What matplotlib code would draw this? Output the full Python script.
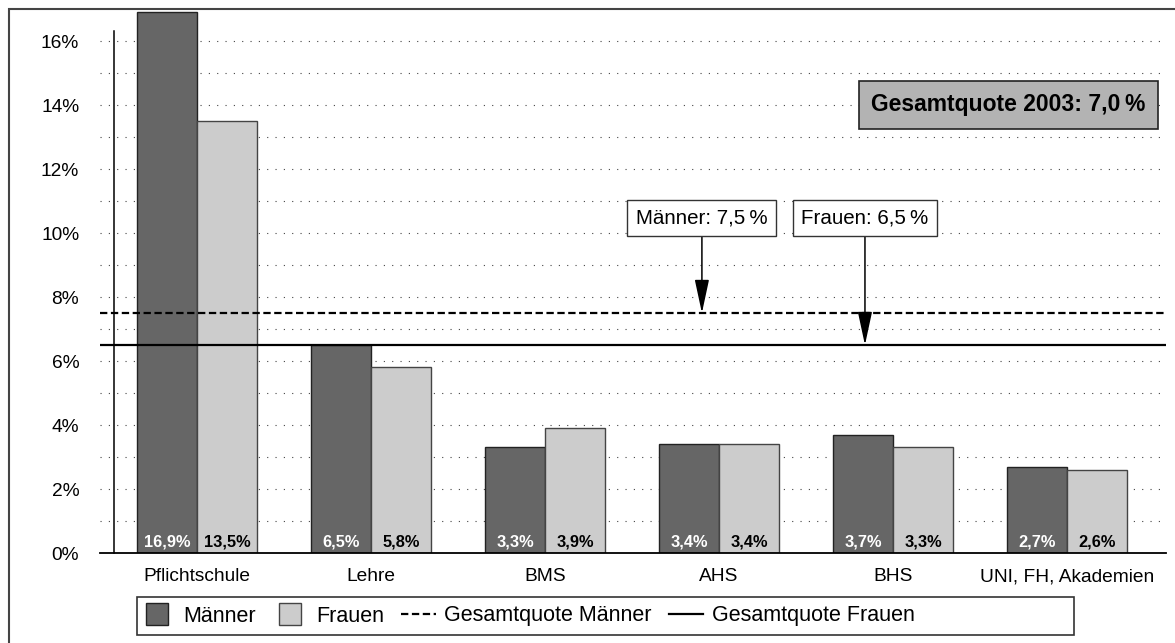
import matplotlib
matplotlib.use("Agg")
import matplotlib.pyplot as plt
from matplotlib.lines import Line2D
from matplotlib.patches import Rectangle
import numpy as np

plt.rcParams['font.family'] = ['Liberation Sans', 'DejaVu Sans']

categories = ["Pflichtschule", "Lehre", "BMS", "AHS", "BHS", "UNI, FH, Akademien"]
maenner = [16.9, 6.5, 3.3, 3.4, 3.7, 2.7]
frauen = [13.5, 5.8, 3.9, 3.4, 3.3, 2.6]
quote_maenner = 7.5
quote_frauen = 6.5
quote_gesamt = 7.0
jahr = 2003

col_m = "#666666"
col_f = "#cccccc"


def de(v, sep=""):
	return f"{v:.1f}".replace(".", ",") + sep + "%"


fig = plt.figure(figsize=(11.75, 6.43), dpi=100)
W, H = 1175, 643
ax = fig.add_axes([100 / W, 1 - 553 / H, 1066 / W, (553 - 5.8) / H])

x = np.arange(len(categories))
bw = 0.345
ax.bar(x - bw / 2, maenner, bw, color=col_m, edgecolor="#222222", linewidth=1, zorder=2)
ax.bar(x + bw / 2, frauen, bw, color=col_f, edgecolor="#444444", linewidth=1, zorder=2)

for i in range(len(categories)):
	ax.text(x[i] - bw / 2, 0.12, de(maenner[i]), ha="center", va="bottom",
			fontsize=11.8, fontweight="bold", color="white", zorder=5)
	ax.text(x[i] + bw / 2, 0.12, de(frauen[i]), ha="center", va="bottom",
			fontsize=11.8, fontweight="bold", color="black", zorder=5)

# Gesamtquoten
ax.axhline(quote_maenner, color="black", linewidth=1.6, linestyle=(0, (3.3, 1.6)), zorder=3)
ax.axhline(quote_frauen, color="black", linewidth=1.6, zorder=3)

ax.set_xlim(-0.557, 5.569)
ax.set_ylim(0, 17.1)
ax.set_yticks(np.arange(0, 17, 2))
ax.set_yticks(np.arange(1, 17, 2), minor=True)
ax.set_yticklabels([f"{int(v)}%" for v in np.arange(0, 17, 2)], fontsize=13.8)
ax.set_xticks(x)
ax.set_xticklabels(categories, fontsize=13.8)
ax.tick_params(axis="both", which="both", length=0)
ax.tick_params(axis="y", pad=15)
ax.tick_params(axis="x", pad=11)
ax.set_axisbelow(True)
ax.grid(axis="y", which="both", color="#444444", linewidth=0.8, linestyle=(0, (1, 6.5)))
for s in ["left", "right", "top"]:
	ax.spines[s].set_visible(False)
ax.spines["bottom"].set_linewidth(1.3)
ax.plot([-0.477, -0.477], [0, 16.3], color="black", linewidth=1.1, zorder=3, clip_on=False)

bbox_w = dict(boxstyle="square,pad=0.42", facecolor="white", edgecolor="#333333", linewidth=1)
arrow = dict(arrowstyle="-|>,head_length=1.4,head_width=0.3", color="black", linewidth=1.1,
			 shrinkA=0, shrinkB=0)
ax.annotate("Männer: " + de(quote_maenner, "\u2009"), xy=(2.902, quote_maenner), xytext=(2.902, 10.48),
			ha="center", va="center", fontsize=14.8, bbox=bbox_w, arrowprops=arrow, zorder=6)
ax.annotate("Frauen: " + de(quote_frauen, "\u2009"), xy=(3.839, quote_frauen), xytext=(3.839, 10.48),
			ha="center", va="center", fontsize=14.8, bbox=bbox_w, arrowprops=arrow, zorder=6)

ax.text(4.664, 14.0, f"Gesamtquote {jahr}: " + de(quote_gesamt, "\u2009"), ha="center", va="center",
		fontsize=16.5, fontweight="bold", zorder=6,
		bbox=dict(boxstyle="square,pad=0.55", facecolor="#b3b3b3", edgecolor="#222222", linewidth=1.2))

# Legende mit breitem Rahmen
handles = [
	Line2D([], [], marker="s", markersize=16, markerfacecolor=col_m, markeredgecolor="#222222", linestyle="none"),
	Line2D([], [], marker="s", markersize=16, markerfacecolor=col_f, markeredgecolor="#444444", linestyle="none"),
	Line2D([], [], color="black", linewidth=1.6, linestyle=(0, (3.3, 1.6))),
	Line2D([], [], color="black", linewidth=1.6),
]
labels = ["Männer", "Frauen", "Gesamtquote Männer", "Gesamtquote Frauen"]
fig.legend(handles, labels, loc="center left", bbox_to_anchor=(140 / W, 1 - 616 / H), ncol=4,
		   frameon=False, fontsize=15.5, handlelength=1.6, handletextpad=0.4, columnspacing=0.8,
		   borderpad=0, borderaxespad=0)
fig.patches.append(Rectangle((137 / W, 1 - 635 / H), 937 / W, 38 / H, transform=fig.transFigure,
							 facecolor="none", edgecolor="#333333", linewidth=1.2))
# Rahmen
fig.patches.append(Rectangle((9 / W, -0.05), 1.2, 1 - 9 / H + 0.05, transform=fig.transFigure,
							 facecolor="none", edgecolor="#444444", linewidth=1.5))

fig.savefig("out.png", dpi=100)
